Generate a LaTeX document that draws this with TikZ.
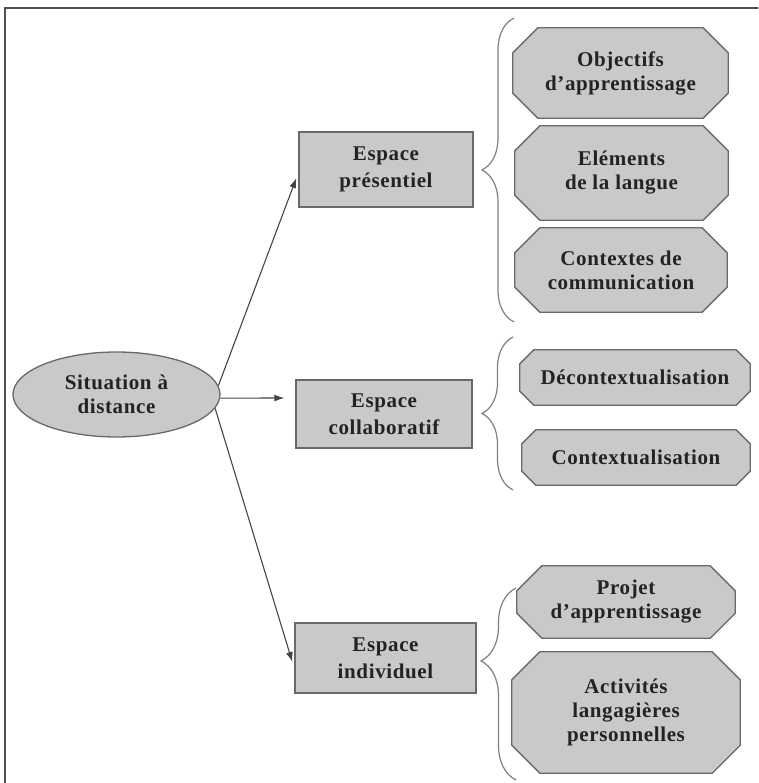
\documentclass[tikz,border=0pt]{standalone}
\usepackage{fontspec}
\setmainfont{Liberation Serif}[LetterSpace=3]
\usetikzlibrary{arrows.meta,shapes.geometric,decorations.pathreplacing,calc}
\pgfdeclarelayer{background}
\pgfsetlayers{background,main}

\definecolor{boxfill}{RGB}{201,201,201}
\definecolor{boxline}{RGB}{105,105,105}
\definecolor{ink}{RGB}{35,35,35}

\tikzset{
  lbl/.style={font=\fontsize{21}{24}\selectfont\bfseries, text=ink, align=center, inner sep=0pt},
  rectbox/.style={lbl, rectangle, draw=boxline, fill=boxfill, line width=1.3pt,
                  font=\fontsize{21}{27}\selectfont\bfseries},
  ovalbox/.style={lbl, ellipse, draw=boxline, fill=boxfill, line width=1.3pt},
  octslot/.style={lbl, rectangle},
  octshape/.style={draw=boxline, fill=boxfill, line width=1.3pt},
  arr/.style={-{Latex[length=10pt,width=7pt]}, line width=1.1pt, draw=ink!85},
  bracestyle/.style={decorate, draw=boxline!85, line width=1.2pt},
}

% octagonal outline around a named node, #2 = size of the cut corners
\newcommand\drawoct[2]{%
  \begin{pgfonlayer}{background}
    \path[octshape]
      ([xshift=#2]#1.north west) -- ([xshift=-#2]#1.north east)
      -- ([yshift=-#2]#1.north east) -- ([yshift=#2]#1.south east)
      -- ([xshift=-#2]#1.south east) -- ([xshift=#2]#1.south west)
      -- ([yshift=#2]#1.south west) -- ([yshift=-#2]#1.north west) -- cycle;
  \end{pgfonlayer}}

\begin{document}
\begin{tikzpicture}[x=1pt,y=-1pt]
  \useasboundingbox (0,0) rectangle (758,783);

  % outer frame
  \begin{scope}
    \clip (0,0) rectangle (758,783);
    \draw[line width=2pt, draw=ink!80] (5,800) -- (5,8) -- (780,8);
  \end{scope}

  % root
  \node[ovalbox, minimum width=207pt, minimum height=85pt] (sit) at (116.5,394.5) {Situation à\\distance};

  % spaces
  \node[rectbox, minimum width=174pt, minimum height=75pt] (pres)  at (386,169.5) {Espace\\présentiel};
  \node[rectbox, minimum width=176pt, minimum height=68pt] (coll)  at (384,414)   {Espace\\collaboratif};
  \node[rectbox, minimum width=181pt, minimum height=70pt] (indiv) at (385.5,658) {Espace\\individuel};

  \draw[arr] (sit.5)  -- ([xshift=-2pt,yshift=-8.5pt]pres.west);
  \draw[arr] (sit.-2) -- ([xshift=-11pt,yshift=16pt]coll.west);
  \draw[arr] (sit.-8) -- ([xshift=-2pt,yshift=-4pt]indiv.west);

  % components of each space
  \node[octslot, minimum width=215pt, minimum height=90pt]  (o1) at (620.5,73)   {Objectifs\\d’apprentissage};
  \node[octslot, minimum width=213pt, minimum height=94pt]  (o2) at (621.5,173)  {Eléments\\de la langue};
  \node[octslot, minimum width=212pt, minimum height=84pt]  (o3) at (621,270)    {Contextes de\\communication};
  \node[octslot, minimum width=230pt, minimum height=55pt]  (o4) at (635,377.5)  {Décontextualisation};
  \node[octslot, minimum width=228pt, minimum height=55pt]  (o5) at (636,457.5)  {Contextualisation};
  \node[octslot, minimum width=218pt, minimum height=72pt]  (o6) at (626,602)    {Projet\\d’apprentissage};
  \node[octslot, minimum width=228pt, minimum height=121pt] (o7) at (626,712.5)  {Activités\\langagières\\personnelles};

  \drawoct{o1}{25pt}
  \drawoct{o2}{25pt}
  \drawoct{o3}{25pt}
  \drawoct{o4}{14pt}
  \drawoct{o5}{14pt}
  \drawoct{o6}{25pt}
  \drawoct{o7}{28pt}

  % braces grouping the components
  \coordinate (b1s) at (514,322);  \coordinate (b1e) at (514,18);
  \coordinate (b2s) at (513,490);  \coordinate (b2e) at (513,337);
  \coordinate (b3s) at (516,780);  \coordinate (b3e) at (516,588);
  \draw[bracestyle, decoration={brace, amplitude=32pt}] (b1s) -- (b1e);
  \draw[bracestyle, decoration={brace, amplitude=31pt}] (b2s) -- (b2e);
  \draw[bracestyle, decoration={brace, amplitude=35pt, aspect=0.62}] (b3s) -- (b3e);
\end{tikzpicture}
\end{document}
